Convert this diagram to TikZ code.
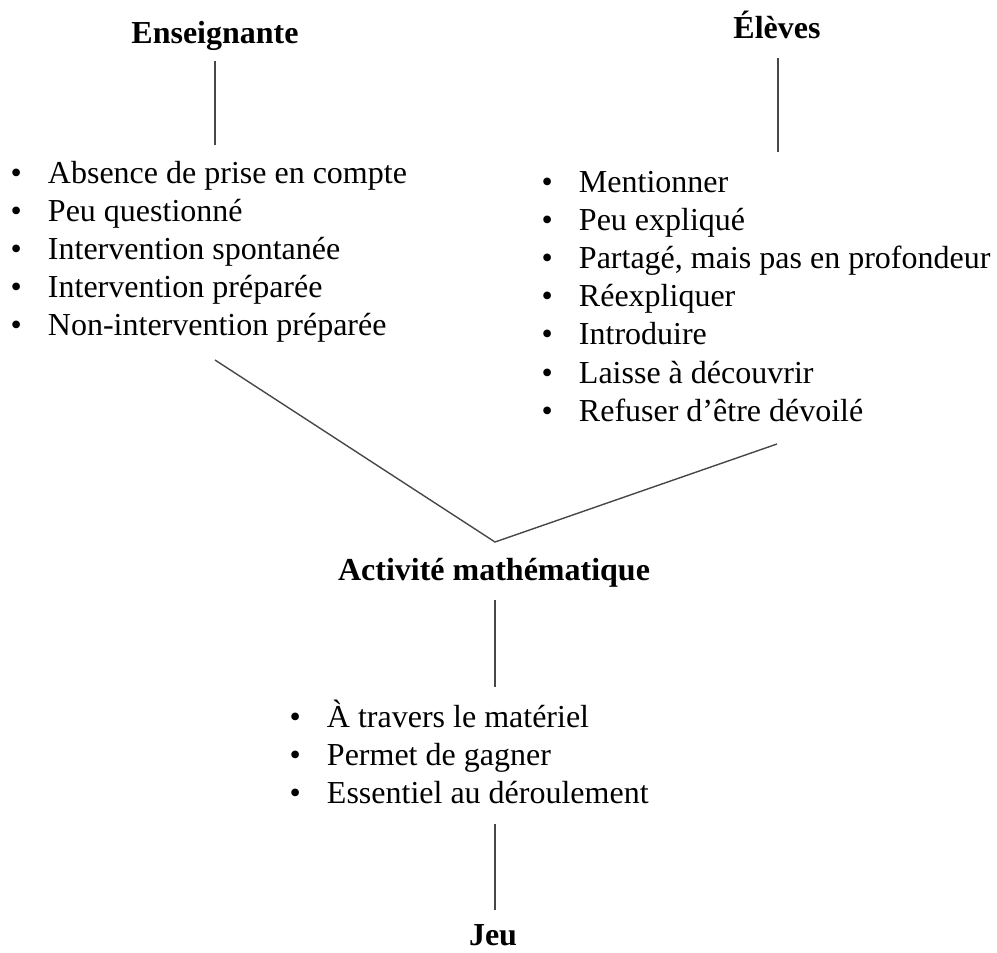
\documentclass[tikz,border=0pt]{standalone}
\usepackage{fontspec}
\setmainfont{Liberation Serif}
\newcommand\blt{\makebox[37.5pt][l]{\textbullet}}
\begin{document}
\begin{tikzpicture}[x=1pt,y=-1pt,
  every node/.style={inner sep=0pt, outer sep=0pt, font=\fontsize{32}{38.2}\selectfont},
  head/.style={anchor=base, font=\fontsize{32}{38.2}\selectfont\bfseries},
  lst/.style={anchor=base west},
  conn/.style={draw=black!72, line width=1.4pt}]
\useasboundingbox (0,0) rectangle (997,953);
% headings
\node[head] (ens) at (215,43) {Enseignante};
\node[head] (ele) at (777,38) {Élèves};
\node[head] (act) at (494,580) {Activité mathématique};
\node[head] (jeu) at (493,945) {Jeu};
% lists
\node[lst] (lensl) at (10.5,183) {\begin{tabular}[t]{@{}l@{}}
\blt Absence de prise en compte\\
\blt Peu questionné\\
\blt Intervention spontanée\\
\blt Intervention préparée\\
\blt Non-intervention préparée
\end{tabular}};
\node[lst] (lele) at (541.5,192) {\begin{tabular}[t]{@{}l@{}}
\blt Mentionner\\
\blt Peu expliqué\\
\blt Partagé, mais pas en profondeur\\
\blt Réexpliquer\\
\blt Introduire\\
\blt Laisse à découvrir\\
\blt Refuser d’être dévoilé
\end{tabular}};
\node[lst] (lact) at (289.5,727) {\begin{tabular}[t]{@{}l@{}}
\blt À travers le matériel\\
\blt Permet de gagner\\
\blt Essentiel au déroulement
\end{tabular}};
% connector ends
\coordinate (ensT) at (215,61);
\coordinate (ensB) at (215,145);
\coordinate (eleT) at (778,58);
\coordinate (eleB) at (778,152);
\coordinate (vl) at (215,360);
\coordinate (apex) at (495,542);
\coordinate (vr) at (777,444);
\coordinate (actT) at (495,600);
\coordinate (actB) at (495,687);
\coordinate (jeuT) at (495,824);
\coordinate (jeuB) at (495,910);
% connectors
\draw[conn] (ensT) -- (ensB);
\draw[conn] (eleT) -- (eleB);
\draw[conn] (vl) -- (apex) -- (vr);
\draw[conn] (actT) -- (actB);
\draw[conn] (jeuT) -- (jeuB);
\end{tikzpicture}
\end{document}
